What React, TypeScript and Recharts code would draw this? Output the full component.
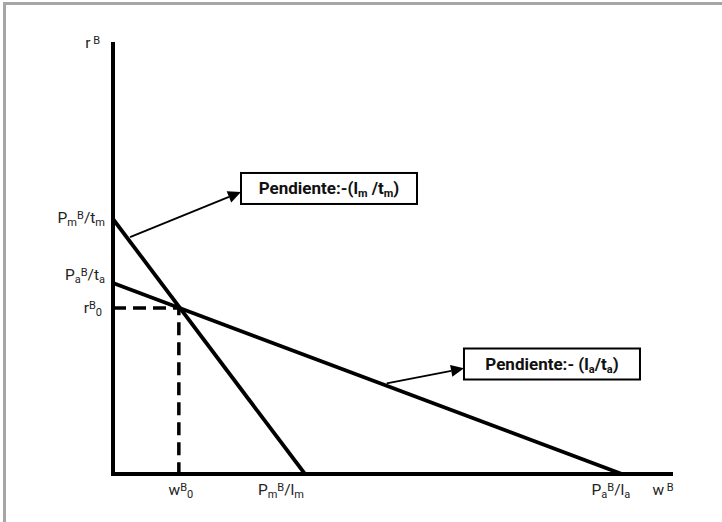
import { LineChart, Line, XAxis, YAxis, ReferenceLine, ReferenceDot } from "recharts";

type Seg = [string, "n" | "sub" | "sup"];

// intercepts and equilibrium (axis units 0..10)
const W0 = 1.18;
const R0 = 3.86;
const PM_TM = 5.93;
const PA_TA = 4.44;
const PM_LM = 3.44;
const PA_LA = 9.12;

const lineM = [
  { x: 0, y: PM_TM },
  { x: PM_LM, y: 0 },
];
const lineA = [
  { x: 0, y: PA_TA },
  { x: PA_LA, y: 0 },
];
const dashed = [
  { x: 0, y: R0 },
  { x: W0, y: R0 },
  { x: W0, y: 0 },
];

const xTicks = [W0, PM_LM, PA_LA, 10];
const xTickLabels: Seg[][] = [
  [["w", "n"], ["B", "sup"], ["0", "sub"]],
  [["P", "n"], ["m", "sub"], ["B", "sup"], ["/l", "n"], ["m", "sub"]],
  [["P", "n"], ["a", "sub"], ["B", "sup"], ["/l", "n"], ["a", "sub"]],
  [["w", "n"], [" B", "sup"]],
];
const xTickShift = [2, -24, -11, -8];

const yTicks = [R0, PA_TA, PM_TM, 10];
const yTickLabels: Seg[][] = [
  [["r", "n"], ["B", "sup"], ["0", "sub"]],
  [["P", "n"], ["a", "sub"], ["B", "sup"], ["/t", "n"], ["a", "sub"]],
  [["P", "n"], ["m", "sub"], ["B", "sup"], ["/t", "n"], ["m", "sub"]],
  [["r", "n"], [" B", "sup"]],
];
const yTickShift = [
  [-11, 5],
  [-8, -3],
  [-8, 4],
  [-13, 4],
];

// slope notes: arrow [from, to] and box centre
const arrowM = [
  { x: 0.305, y: 5.51 },
  { x: 2.294, y: 6.558 },
];
const arrowA = [
  { x: 4.905, y: 2.11 },
  { x: 6.29, y: 2.458 },
];
const noteM = { x: 3.871, y: 6.64 };
const noteA = { x: 7.867, y: 2.558 };
const noteMText: Seg[] = [["Pendiente:-(l", "n"], ["m", "sub"], [" /t", "n"], ["m", "sub"], [")", "n"]];
const noteAText: Seg[] = [["Pendiente:- (l", "n"], ["a", "sub"], ["/t", "n"], ["a", "sub"], [")", "n"]];

const FONT = "Roboto, sans-serif";

const spans = (segs: Seg[], small: number, up: number, down: number) => {
  let cur = 0;
  return segs.map(([t, k], i) => {
    const target = k === "sup" ? -up : k === "sub" ? down : 0;
    const dy = target - cur;
    cur = target;
    return (
      <tspan key={i} dy={dy} fontSize={k === "n" ? undefined : small}>
        {t}
      </tspan>
    );
  });
};

const XTick = (props: any) => {
  const { x, y, payload } = props;
  const i = xTicks.indexOf(payload.value);
  if (i < 0) return null;
  return (
    <text x={x + xTickShift[i]} y={y + 21} textAnchor="middle" fontFamily={FONT} fontSize={15.5} fill="#222" xmlSpace="preserve">
      {spans(xTickLabels[i], 11, 4, 3)}
    </text>
  );
};

const YTick = (props: any) => {
  const { x, y, payload } = props;
  const i = yTicks.indexOf(payload.value);
  if (i < 0) return null;
  return (
    <text x={x + yTickShift[i][0]} y={y + yTickShift[i][1]} textAnchor="end" fontFamily={FONT} fontSize={15.5} fill="#222" xmlSpace="preserve">
      {spans(yTickLabels[i], 11, 4, 3)}
    </text>
  );
};

const Arrow = (props: any) => {
  const { x1, y1, x2, y2 } = props;
  const a = Math.atan2(y2 - y1, x2 - x1);
  const len = 13;
  const hw = 6;
  const bx = x2 - len * Math.cos(a);
  const by = y2 - len * Math.sin(a);
  const px = -Math.sin(a) * hw;
  const py = Math.cos(a) * hw;
  return (
    <g>
      <line x1={x1} y1={y1} x2={bx} y2={by} stroke="#000" strokeWidth={1.8} />
      <polygon points={`${x2},${y2} ${bx + px},${by + py} ${bx - px},${by - py}`} fill="#000" />
    </g>
  );
};

const noteBox = (segs: Seg[]) => (props: any) => {
  const { cx, cy } = props;
  return (
    <g>
      <rect x={cx - 88} y={cy - 15.5} width={176} height={31} fill="#fff" stroke="#000" strokeWidth={2} />
      <text x={cx} y={cy + 6} textAnchor="middle" fontFamily={FONT} fontSize={17} fontWeight="bold" fill="#111" xmlSpace="preserve">
        {spans(segs, 11, 5, 3)}
      </text>
    </g>
  );
};

export default function App() {
  return (
    <div style={{ position: "absolute", left: 0, top: 0, width: 722, height: 522, background: "#fff" }}>
      <div
        style={{
          position: "absolute",
          left: 3,
          top: 2,
          width: 719,
          height: 520,
          borderTop: "3px solid #a6a6a6",
          borderLeft: "3px solid #a6a6a6",
          boxSizing: "border-box",
        }}
      />
      <div style={{ position: "absolute", left: 0, top: 0 }}>
        <LineChart width={722} height={522} margin={{ top: 44, right: 51, bottom: 8, left: 53 }}>
          <XAxis
            type="number"
            dataKey="x"
            domain={[0, 10]}
            ticks={xTicks}
            interval={0}
            height={40}
            tickSize={0}
            tickMargin={0}
            tickLine={false}
            axisLine={{ stroke: "#000", strokeWidth: 4, strokeLinecap: "square" }}
            tick={<XTick />}
            allowDataOverflow
          />
          <YAxis
            type="number"
            dataKey="y"
            domain={[0, 10]}
            ticks={yTicks}
            interval={0}
            width={60}
            tickSize={0}
            tickMargin={0}
            tickLine={false}
            axisLine={{ stroke: "#000", strokeWidth: 4, strokeLinecap: "square" }}
            tick={<YTick />}
            allowDataOverflow
          />
          <Line data={dashed} dataKey="y" type="linear" stroke="#000" strokeWidth={3.5} strokeDasharray="13 7" dot={false} isAnimationActive={false} />
          <Line data={lineM} dataKey="y" type="linear" stroke="#000" strokeWidth={3.8} dot={false} isAnimationActive={false} />
          <Line data={lineA} dataKey="y" type="linear" stroke="#000" strokeWidth={3.8} dot={false} isAnimationActive={false} />
          <ReferenceLine segment={arrowM} shape={Arrow} ifOverflow="visible" />
          <ReferenceLine segment={arrowA} shape={Arrow} ifOverflow="visible" />
          <ReferenceDot x={noteM.x} y={noteM.y} shape={noteBox(noteMText)} ifOverflow="visible" />
          <ReferenceDot x={noteA.x} y={noteA.y} shape={noteBox(noteAText)} ifOverflow="visible" />
        </LineChart>
      </div>
    </div>
  );
}
